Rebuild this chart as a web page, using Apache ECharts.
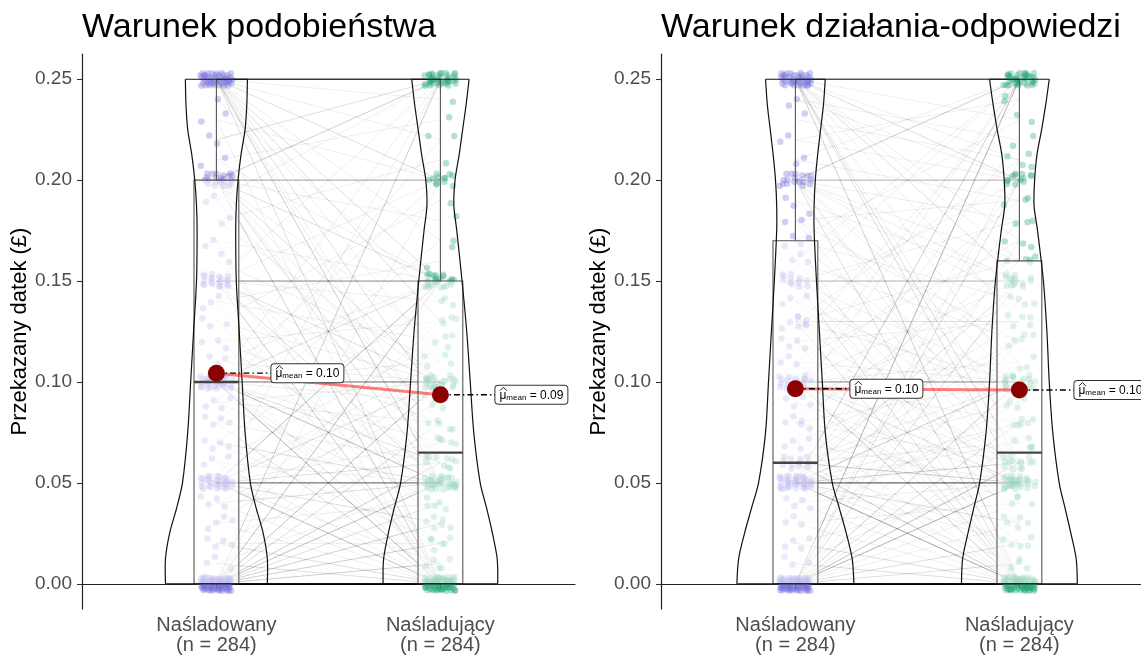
<!DOCTYPE html>
<html>
<head>
<meta charset="utf-8">
<script src="https://cdn.jsdelivr.net/npm/echarts@6/dist/echarts.min.js"></script>
<style>html,body{margin:0;padding:0;background:#fff}#chart{width:1141px;height:655px}</style>
</head>
<body>
<div id="chart"></div>
<script>
// ---------------- DATA ----------------
const titles = ['Warunek podobieństwa', 'Warunek działania-odpowiedzi'];
const categories = ['Naśladowany', 'Naśladujący'];
const yTickValues = [0, 0.05, 0.10, 0.15, 0.20, 0.25];
const yAxisTitle = 'Przekazany datek (£)';

// paired observations: [Naśladowany, Naśladujący, number of participants]
const pairsSimilarity = [
  [0,0,45],[0.05,0.05,12],[0.10,0.10,10],[0.15,0.15,8],[0.20,0.20,6],[0.25,0.25,28],
  [0,0.01,3],[0,0.02,3],[0,0.03,3],[0,0.04,2],[0,0.05,4],[0,0.06,3],[0,0.08,2],[0,0.10,4],[0,0.12,1],[0,0.15,4],[0,0.20,1],[0,0.25,3],
  [0.01,0,2],[0.01,0.05,1],
  [0.02,0,2],[0.02,0.02,1],[0.02,0.07,1],
  [0.03,0,1],[0.03,0.04,1],[0.03,0.10,1],[0.03,0.13,1],
  [0.04,0,1],[0.04,0.05,2],[0.04,0.09,1],
  [0.05,0,4],[0.05,0.01,1],[0.05,0.03,2],[0.05,0.06,2],[0.05,0.07,1],[0.05,0.10,2],[0.05,0.11,1],[0.05,0.15,4],[0.05,0.25,1],
  [0.06,0,1],[0.06,0.05,1],[0.06,0.12,1],
  [0.07,0.02,1],[0.07,0.05,2],[0.07,0.14,1],
  [0.08,0,2],[0.08,0.06,1],[0.08,0.17,1],
  [0.09,0.04,1],[0.09,0.08,1],[0.09,0.10,1],[0.09,0.22,1],
  [0.10,0,5],[0.10,0.01,1],[0.10,0.02,1],[0.10,0.05,4],[0.10,0.06,2],[0.10,0.07,1],[0.10,0.09,1],[0.10,0.11,1],[0.10,0.15,2],[0.10,0.20,1],[0.10,0.25,1],
  [0.11,0,1],[0.11,0.10,1],[0.11,0.15,1],
  [0.12,0.05,1],[0.12,0.08,1],[0.12,0.13,1],
  [0.13,0.03,1],[0.13,0.10,1],[0.13,0.19,1],
  [0.14,0,1],[0.14,0.12,1],[0.14,0.16,1],
  [0.15,0,3],[0.15,0.04,1],[0.15,0.05,2],[0.15,0.09,1],[0.15,0.10,2],[0.15,0.14,1],[0.15,0.20,1],[0.15,0.25,1],
  [0.16,0.05,1],[0.16,0.11,1],
  [0.17,0,1],[0.17,0.15,1],
  [0.18,0.10,1],[0.18,0.21,1],
  [0.19,0.07,1],[0.19,0.25,1],
  [0.20,0,3],[0.20,0.05,2],[0.20,0.06,1],[0.20,0.08,1],[0.20,0.10,2],[0.20,0.12,1],[0.20,0.15,2],[0.20,0.18,1],[0.20,0.25,3],
  [0.21,0.15,1],[0.21,0.23,1],
  [0.22,0.25,2],
  [0.23,0,1],[0.23,0.20,1],
  [0.24,0.14,1],
  [0.25,0,2],[0.25,0.05,3],[0.25,0.06,1],[0.25,0.07,1],[0.25,0.09,2],[0.25,0.11,1],[0.25,0.13,2],[0.25,0.15,2],[0.25,0.17,1],[0.25,0.20,2],[0.25,0.22,1],[0.25,0.24,1]
];

const pairsActionResponse = [
  [0,0,45],[0.05,0.05,14],[0.10,0.10,8],[0.13,0.13,2],[0.15,0.15,5],[0.20,0.20,5],[0.25,0.25,22],
  [0,0.01,2],[0,0.02,2],[0,0.03,1],[0,0.04,1],[0,0.05,5],[0,0.06,4],[0,0.07,1],[0,0.08,2],[0,0.10,3],[0,0.12,1],[0,0.15,2],[0,0.17,1],[0,0.20,2],[0,0.21,1],[0,0.25,5],
  [0.01,0,2],[0.01,0.06,1],
  [0.02,0,2],[0.02,0.05,1],[0.02,0.11,1],
  [0.03,0,1],[0.03,0.04,1],[0.03,0.09,1],
  [0.04,0,1],[0.04,0.05,1],[0.04,0.08,1],[0.04,0.14,1],
  [0.05,0,6],[0.05,0.01,1],[0.05,0.02,1],[0.05,0.03,2],[0.05,0.06,3],[0.05,0.07,1],[0.05,0.08,1],[0.05,0.10,3],[0.05,0.12,1],[0.05,0.15,2],[0.05,0.16,1],[0.05,0.20,1],[0.05,0.25,3],
  [0.06,0,3],[0.06,0.02,1],[0.06,0.05,3],[0.06,0.07,1],[0.06,0.09,1],[0.06,0.10,1],[0.06,0.13,1],[0.06,0.18,1],
  [0.07,0,1],[0.07,0.05,1],[0.07,0.12,1],[0.07,0.22,1],
  [0.08,0,1],[0.08,0.04,1],[0.08,0.06,1],[0.08,0.10,1],[0.08,0.16,1],
  [0.09,0.03,1],[0.09,0.05,1],[0.09,0.14,1],[0.09,0.25,1],
  [0.10,0,3],[0.10,0.01,1],[0.10,0.05,2],[0.10,0.06,1],[0.10,0.08,1],[0.10,0.11,1],[0.10,0.15,1],[0.10,0.19,1],[0.10,0.25,1],
  [0.11,0.02,1],[0.11,0.10,1],[0.11,0.17,1],
  [0.12,0,1],[0.12,0.06,1],[0.12,0.13,1],[0.12,0.24,1],
  [0.13,0,2],[0.13,0.05,1],[0.13,0.10,1],[0.13,0.16,1],[0.13,0.21,1],
  [0.14,0.05,1],[0.14,0.09,1],[0.14,0.20,1],
  [0.15,0,2],[0.15,0.03,1],[0.15,0.07,1],[0.15,0.10,1],[0.15,0.18,1],[0.15,0.25,1],
  [0.16,0.04,1],[0.16,0.12,1],[0.16,0.25,1],
  [0.17,0,1],[0.17,0.08,1],[0.17,0.14,1],[0.17,0.23,1],
  [0.18,0.05,1],[0.18,0.12,1],[0.18,0.19,1],
  [0.19,0.09,1],[0.19,0.15,1],
  [0.20,0,2],[0.20,0.05,1],[0.20,0.06,1],[0.20,0.10,1],[0.20,0.11,1],[0.20,0.14,1],[0.20,0.15,1],[0.20,0.16,1],[0.20,0.18,1],[0.20,0.25,3],
  [0.21,0.19,1],[0.21,0.25,1],
  [0.22,0.20,1],[0.22,0.24,1],
  [0.23,0.21,1],
  [0.24,0.20,1],[0.24,0.22,1],
  [0.25,0,3],[0.25,0.05,2],[0.25,0.06,2],[0.25,0.07,1],[0.25,0.10,1],[0.25,0.13,1],[0.25,0.15,2],[0.25,0.16,1],[0.25,0.17,1],[0.25,0.20,2],[0.25,0.21,1],[0.25,0.23,1]
];

// violin densities (relative) at these levels
const violinLevels = [0, 0.0125, 0.025, 0.0375, 0.05, 0.075, 0.10, 0.125, 0.15, 0.175, 0.1875, 0.20, 0.2125, 0.225, 0.2375, 0.25];
const violinSimilarityImitated = [0.87,0.87,0.80,0.68,0.58,0.49,0.44,0.39,0.34,0.33,0.34,0.37,0.42,0.49,0.52,0.53];
const violinSimilarityImitator = [0.98,0.97,0.89,0.79,0.68,0.57,0.51,0.45,0.37,0.28,0.23,0.25,0.32,0.38,0.44,0.49];
const violinActionImitated    = [1.00,0.97,0.87,0.75,0.63,0.51,0.46,0.41,0.36,0.32,0.32,0.34,0.38,0.43,0.48,0.51];
const violinActionImitator    = [0.99,0.97,0.88,0.78,0.68,0.57,0.51,0.47,0.41,0.31,0.25,0.26,0.30,0.38,0.45,0.51];

// ---------------- STYLE ----------------
const FONT = '"Liberation Sans", Arial, Helvetica, sans-serif';
const PX_PER_UNIT = 224;         // horizontal scale shared by both panels
const VIOLIN_SCALE = 0.2612;     // x-units per unit of relative density
const BOX_HALF = 0.1;
const JITTER_X = 0.072, JITTER_Y = 0.0035;
const pointColors = ['rgba(115,110,220,0.42)', 'rgba(35,165,115,0.42)'];

function expand(pairs) {
  const a = [], b = [];
  pairs.forEach(([x, y, n]) => { for (let k = 0; k < n; k++) { a.push(x); b.push(y); } });
  return [a, b];
}
function q7(s, p) {
  const h = (s.length - 1) * p, lo = Math.floor(h), hi = Math.ceil(h);
  return s[lo] + (h - lo) * (s[hi] - s[lo]);
}
function boxStats(vals) {
  const s = vals.slice().sort((x, y) => x - y);
  const q1 = q7(s, 0.25), med = q7(s, 0.5), q3 = q7(s, 0.75), iqr = q3 - q1;
  const hi = Math.max(...s.filter(v => v <= q3 + 1.5 * iqr + 1e-12));
  const lo = Math.min(...s.filter(v => v >= q1 - 1.5 * iqr - 1e-12));
  return { q1, med, q3, hi, lo };
}
const mean = v => v.reduce((s, x) => s + x, 0) / v.length;

const panels = [
  { title: titles[0], pairs: pairsSimilarity, violins: [violinSimilarityImitated, violinSimilarityImitator] },
  { title: titles[1], pairs: pairsActionResponse, violins: [violinActionImitated, violinActionImitator] }
];

const gridLefts = [82, 661];
const gridWidths = [493, 480];   // the right panel is cut off by the page edge
const option = {
  animation: false,
  backgroundColor: '#fff',
  title: [], grid: [], xAxis: [], yAxis: [], series: []
};

panels.forEach((panel, p) => {
  const groups = expand(panel.pairs);
  const stats = groups.map(boxStats);
  const means = groups.map(mean);
  const n = groups[0].length;
  const xmax = 0.4 + gridWidths[p] / PX_PER_UNIT;

  option.title.push({
    text: panel.title, left: gridLefts[p], top: 11, padding: 0,
    textStyle: { fontSize: 34, fontWeight: 'normal', color: '#000', fontFamily: FONT }
  });
  option.grid.push({ left: gridLefts[p], top: 54, width: gridWidths[p], height: 555 });
  option.xAxis.push({
    type: 'value', gridIndex: p, min: 0.4, max: xmax,
    splitLine: { show: false },
    axisLine: { show: true, lineStyle: { color: '#222', width: 1.2 } },
    axisTick: { show: true, customValues: [1, 2], length: 5, lineStyle: { color: '#333', width: 1.1 } },
    axisLabel: {
      customValues: [1, 2], margin: 6, color: '#4D4D4D', fontSize: 20, lineHeight: 20, fontFamily: FONT,
      formatter: v => categories[Math.round(v) - 1] + '\n(n = ' + n + ')'
    }
  });
  option.yAxis.push({
    type: 'value', gridIndex: p, min: -0.0125, max: 0.2625,
    name: yAxisTitle, nameLocation: 'middle', nameGap: 51,
    nameTextStyle: { fontSize: 22, color: '#000', fontFamily: FONT },
    splitLine: { show: false },
    axisLine: { show: true, lineStyle: { color: '#222', width: 1.2 } },
    axisTick: { show: true, customValues: yTickValues, length: 5, lineStyle: { color: '#333', width: 1.1 } },
    axisLabel: {
      customValues: yTickValues, margin: 10, color: '#4D4D4D', fontSize: 19, fontFamily: FONT,
      formatter: v => v.toFixed(2)
    }
  });

  // paired lines
  const lineData = groups[0].map((a, i) => [1, a, 2, groups[1][i]]);
  option.series.push({
    type: 'custom', xAxisIndex: p, yAxisIndex: p, data: lineData, silent: true, z: 1,
    encode: { x: [0, 2], y: [1, 3] },
    renderItem: (params, api) => {
      const s = api.coord([api.value(0), api.value(1)]);
      const e = api.coord([api.value(2), api.value(3)]);
      return { type: 'line', shape: { x1: s[0], y1: s[1], x2: e[0], y2: e[1] },
        style: { stroke: 'rgba(0,0,0,0.065)', lineWidth: 1 } };
    }
  });

  // jittered points
  groups.forEach((vals, c) => {
    option.series.push({
      type: 'scatter', xAxisIndex: p, yAxisIndex: p, silent: true, z: 2,
      symbolSize: 6.5,
      itemStyle: { color: pointColors[c], borderWidth: 0 },
      data: vals.map((v, i) => {
        const jx = ((0.5 + (i + 1) * 0.7548776662) % 1 - 0.5) * 2 * JITTER_X;
        const jy = ((0.5 + (i + 1) * 0.5698402910) % 1 - 0.5) * 2 * JITTER_Y;
        return [c + 1 + jx, v + jy];
      })
    });
  });

  // boxplots (semi-transparent white fill fades the points inside)
  option.series.push({
    type: 'custom', xAxisIndex: p, yAxisIndex: p, silent: true, z: 3,
    data: stats.map((s, c) => [c + 1, s.med]),
    renderItem: (params, api) => {
      const c = params.dataIndex, s = stats[c], cx = c + 1;
      const tl = api.coord([cx - BOX_HALF, s.q3]), br = api.coord([cx + BOX_HALF, s.q1]);
      const m1 = api.coord([cx - BOX_HALF, s.med]), m2 = api.coord([cx + BOX_HALF, s.med]);
      const wt = api.coord([cx, s.hi]), wb = api.coord([cx, s.lo]);
      return { type: 'group', children: [
        { type: 'rect', shape: { x: tl[0], y: tl[1], width: br[0] - tl[0], height: br[1] - tl[1] },
          style: { fill: 'rgba(255,255,255,0.55)', stroke: '#555', lineWidth: 1.1 } },
        { type: 'line', shape: { x1: wt[0], y1: wt[1], x2: wt[0], y2: tl[1] }, style: { stroke: '#555', lineWidth: 1.1 } },
        { type: 'line', shape: { x1: wb[0], y1: wb[1], x2: wb[0], y2: br[1] }, style: { stroke: '#555', lineWidth: 1.1 } },
        { type: 'line', shape: { x1: m1[0], y1: m1[1], x2: m2[0], y2: m2[1] }, style: { stroke: '#444', lineWidth: 2.4 } }
      ] };
    }
  });

  // violins
  option.series.push({
    type: 'custom', xAxisIndex: p, yAxisIndex: p, silent: true, z: 4,
    data: [[1, 0], [2, 0]],
    renderItem: (params, api) => {
      const c = params.dataIndex, cx = c + 1, w = panel.violins[c];
      const left = violinLevels.map((v, k) => api.coord([cx - w[k] * VIOLIN_SCALE, v]));
      const right = violinLevels.map((v, k) => api.coord([cx + w[k] * VIOLIN_SCALE, v]));
      const st = { fill: null, stroke: '#111', lineWidth: 1.2 };
      const L = left.length - 1;
      return { type: 'group', children: [
        { type: 'polyline', shape: { points: left, smooth: 0.3 }, style: st },
        { type: 'polyline', shape: { points: right, smooth: 0.3 }, style: st },
        { type: 'line', shape: { x1: left[0][0], y1: left[0][1], x2: right[0][0], y2: right[0][1] }, style: st },
        { type: 'line', shape: { x1: left[L][0], y1: left[L][1], x2: right[L][0], y2: right[L][1] }, style: st }
      ] };
    }
  });

  // mean path
  option.series.push({
    type: 'line', xAxisIndex: p, yAxisIndex: p, silent: true, symbol: 'none', z: 5,
    lineStyle: { color: 'rgba(255,0,0,0.5)', width: 3 },
    data: means.map((m, c) => [c + 1, m])
  });

  // label connectors
  option.series.push({
    type: 'custom', xAxisIndex: p, yAxisIndex: p, silent: true, z: 6,
    data: means.map((m, c) => [c + 1, m]),
    renderItem: (params, api) => {
      const pt = api.coord([api.value(0), api.value(1)]);
      return { type: 'line', shape: { x1: pt[0], y1: pt[1], x2: pt[0] + 56, y2: pt[1] },
        style: { stroke: '#000', lineWidth: 1.4, lineDash: [6, 3, 1.5, 3] } };
    }
  });

  // mean points
  option.series.push({
    type: 'scatter', xAxisIndex: p, yAxisIndex: p, silent: true, z: 7,
    symbolSize: 17, itemStyle: { color: '#8B0000', opacity: 1 },
    data: means.map((m, c) => [c + 1, m])
  });

  // mean labels
  option.series.push({
    type: 'custom', xAxisIndex: p, yAxisIndex: p, silent: true, z: 8,
    data: means.map((m, c) => [c + 1, m]),
    renderItem: (params, api) => {
      const pt = api.coord([api.value(0), api.value(1)]);
      const m = api.value(1);
      const x0 = pt[0] + 55, y0 = pt[1];
      return { type: 'group', children: [
        { type: 'text', x: x0, y: y0,
          style: {
            text: '{mu|μ}{sub|mean}{eq| = ' + m.toFixed(2) + '}',
            rich: {
              mu: { fontSize: 12, fontFamily: FONT, fill: '#000' },
              sub: { fontSize: 8, fontFamily: FONT, fill: '#000', padding: [5, 0, 0, 0] },
              eq: { fontSize: 12, fontFamily: FONT, fill: '#000' }
            },
            align: 'left', verticalAlign: 'middle',
            backgroundColor: '#fff', borderColor: '#333', borderWidth: 1, borderRadius: 3,
            padding: [3, 4, 2, 4]
          } },
        { type: 'polyline', z2: 10,
          shape: { points: [[x0 + 4.5, y0 - 4], [x0 + 8, y0 - 7.5], [x0 + 11.5, y0 - 4]] },
          style: { fill: null, stroke: '#000', lineWidth: 0.9 } }
      ] };
    }
  });
});

const chart = echarts.init(document.getElementById('chart'), null, { renderer: 'canvas' });
chart.setOption(option);
</script>
</body>
</html>
